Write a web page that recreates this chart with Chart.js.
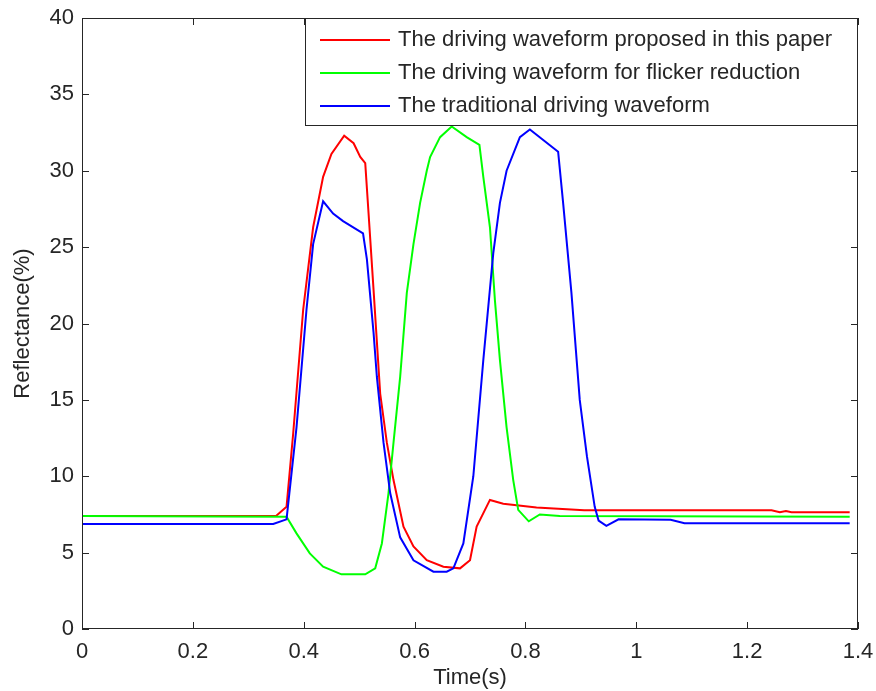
<!DOCTYPE html>
<html>
<head>
<meta charset="utf-8">
<title>Reflectance</title>
<script src="https://cdn.jsdelivr.net/npm/chart.js@4.4.1/dist/chart.umd.min.js"></script>
<style>
  html, body { margin: 0; padding: 0; background: #fff; }
  canvas { display: block; }
</style>
</head>
<body>
<canvas id="reflChart" width="876" height="691"></canvas>
<script>
// series (time in s, reflectance in %)
const seriesNames = [
  'The driving waveform proposed in this paper',
  'The driving waveform for flicker reduction',
  'The traditional driving waveform'
];

const redTime = [0, 0.35, 0.369, 0.381, 0.399, 0.417, 0.435, 0.450, 0.473, 0.490, 0.502, 0.511, 0.517, 0.526, 0.538, 0.550, 0.562, 0.580, 0.598, 0.622, 0.652, 0.682, 0.700, 0.712, 0.736, 0.760, 0.820, 0.906, 1.244, 1.259, 1.270, 1.280, 1.385];
const redVal  = [7.4, 7.4, 8.0, 12.8, 20.9, 26.3, 29.6, 31.1, 32.3, 31.8, 30.9, 30.5, 27.2, 22.2, 15.4, 12.2, 9.75, 6.7, 5.4, 4.5, 4.08, 3.97, 4.5, 6.7, 8.45, 8.2, 7.95, 7.78, 7.78, 7.65, 7.72, 7.65, 7.65];

const greenTime = [0, 0.369, 0.387, 0.411, 0.435, 0.468, 0.511, 0.529, 0.541, 0.553, 0.562, 0.574, 0.586, 0.598, 0.610, 0.622, 0.628, 0.646, 0.667, 0.694, 0.717, 0.724, 0.736, 0.745, 0.754, 0.766, 0.778, 0.787, 0.806, 0.826, 0.862, 1.385];
const greenVal  = [7.4, 7.35, 6.26, 4.95, 4.08, 3.58, 3.58, 3.97, 5.6, 8.9, 12.2, 16.5, 22.0, 25.2, 27.9, 30.0, 30.9, 32.2, 32.9, 32.2, 31.7, 29.6, 26.3, 21.5, 17.6, 13.2, 9.75, 7.8, 7.05, 7.5, 7.4, 7.35];

const blueTime = [0, 0.345, 0.369, 0.387, 0.405, 0.417, 0.435, 0.453, 0.471, 0.507, 0.514, 0.526, 0.532, 0.544, 0.556, 0.574, 0.598, 0.634, 0.658, 0.670, 0.688, 0.706, 0.724, 0.742, 0.754, 0.766, 0.790, 0.808, 0.859, 0.868, 0.883, 0.898, 0.911, 0.925, 0.932, 0.946, 0.968, 1.062, 1.087, 1.385];
const blueVal  = [6.87, 6.87, 7.18, 13.2, 20.9, 25.2, 28.0, 27.2, 26.7, 25.9, 24.2, 19.4, 16.5, 12.2, 8.9, 6.0, 4.5, 3.75, 3.75, 3.97, 5.6, 10.0, 17.6, 24.6, 27.9, 30.0, 32.2, 32.7, 31.25, 27.9, 22.0, 15.0, 11.3, 8.0, 7.1, 6.75, 7.18, 7.15, 6.92, 6.92];

const xTicks = [0, 0.2, 0.4, 0.6, 0.8, 1, 1.2, 1.4];
const yTicks = [0, 5, 10, 15, 20, 25, 30, 35, 40];

const FONT = '"Liberation Sans", Arial, sans-serif';
const INK = '#262626';

function toPoints(ts, vs) {
  return ts.map((t, i) => ({ x: t, y: vs[i] }));
}

// box, inward ticks on all sides and the legend box, MATLAB style
const matlabFrame = {
  id: 'matlabFrame',
  afterDraw(chart) {
    const ctx = chart.ctx;
    const a = chart.chartArea;
    const xs = chart.scales.x, ys = chart.scales.y;
    const tl = 7;
    ctx.save();
    ctx.strokeStyle = INK;
    ctx.lineWidth = 1;
    ctx.strokeRect(a.left + 0.5, a.top + 0.5, a.right - a.left - 1, a.bottom - a.top - 1);
    ctx.beginPath();
    xTicks.forEach(v => {
      const px = Math.round(xs.getPixelForValue(v)) + 0.5;
      ctx.moveTo(px, a.bottom); ctx.lineTo(px, a.bottom - tl);
      ctx.moveTo(px, a.top); ctx.lineTo(px, a.top + tl);
    });
    yTicks.forEach(v => {
      const py = Math.round(ys.getPixelForValue(v)) + 0.5;
      ctx.moveTo(a.left, py); ctx.lineTo(a.left + tl, py);
      ctx.moveTo(a.right, py); ctx.lineTo(a.right - tl, py);
    });
    ctx.stroke();

    // legend
    const lx = 305, ly = a.top, lw = a.right - 305, lh = 108;
    ctx.fillStyle = '#fff';
    ctx.fillRect(lx, ly, lw, lh);
    ctx.strokeStyle = INK;
    ctx.strokeRect(lx + 0.5, ly + 0.5, lw - 1, lh - 1);
    ctx.font = '22px ' + FONT;
    ctx.textBaseline = 'middle';
    ctx.textAlign = 'left';
    chart.data.datasets.forEach((ds, i) => {
      const rowY = ly + 22 + i * 33;
      ctx.strokeStyle = ds.borderColor;
      ctx.lineWidth = 2;
      ctx.beginPath();
      ctx.moveTo(320, rowY); ctx.lineTo(390, rowY);
      ctx.stroke();
      ctx.fillStyle = INK;
      ctx.fillText(ds.label, 398, rowY);
    });
    ctx.restore();
  }
};

const ctx = document.getElementById('reflChart').getContext('2d');
const reflChart = new Chart(ctx, {
  type: 'line',
  data: {
    datasets: [
      { label: seriesNames[0], data: toPoints(redTime, redVal), borderColor: '#ff0000', order: 3 },
      { label: seriesNames[1], data: toPoints(greenTime, greenVal), borderColor: '#00ff00', order: 2 },
      { label: seriesNames[2], data: toPoints(blueTime, blueVal), borderColor: '#0000ff', order: 1 }
    ]
  },
  options: {
    responsive: false,
    animation: false,
    elements: {
      point: { radius: 0 },
      line: { borderWidth: 2, tension: 0, fill: false }
    },
    layout: { padding: { top: 18, right: 18, left: 0, bottom: 0 } },
    plugins: {
      legend: { display: false },
      tooltip: { enabled: false }
    },
    scales: {
      x: {
        type: 'linear',
        min: 0,
        max: 1.4,
        afterBuildTicks: s => { s.ticks = xTicks.map(v => ({ value: v })); },
        afterFit: s => { s.height = 62; },
        grid: { display: false },
        border: { display: false },
        ticks: {
          color: INK,
          font: { family: FONT, size: 22 },
          padding: 2,
          maxRotation: 0,
          callback: v => String(Number(v.toFixed(1)))
        },
        title: {
          display: true,
          text: 'Time(s)',
          color: INK,
          font: { family: FONT, size: 22 },
          padding: { top: 0, bottom: 0 }
        }
      },
      y: {
        type: 'linear',
        min: 0,
        max: 40,
        afterBuildTicks: s => { s.ticks = yTicks.map(v => ({ value: v })); },
        afterFit: s => { s.width = 82; },
        grid: { display: false },
        border: { display: false },
        ticks: {
          color: INK,
          font: { family: FONT, size: 22 },
          padding: 0
        },
        title: {
          display: true,
          text: 'Reflectance(%)',
          color: INK,
          font: { family: FONT, size: 22 },
          padding: { top: 10, bottom: 0 }
        }
      }
    }
  },
  plugins: [matlabFrame]
});
</script>
</body>
</html>
